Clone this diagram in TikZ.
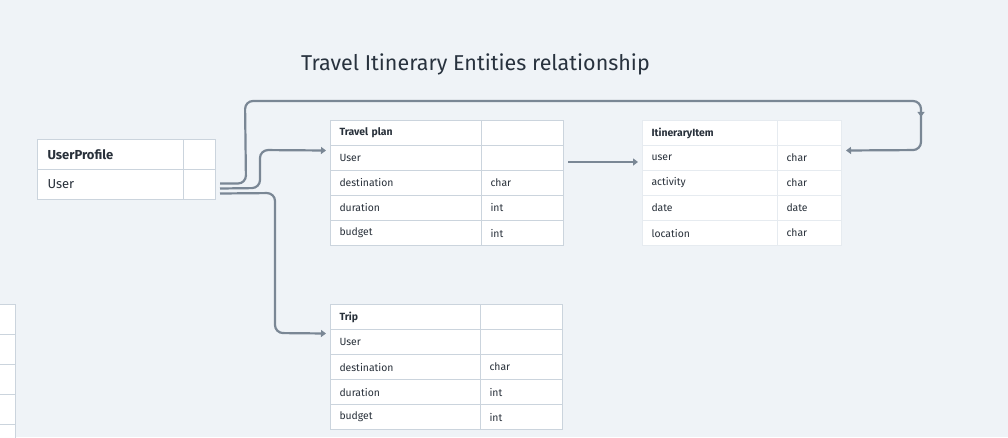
\documentclass[tikz,border=0pt]{standalone}
\usepackage{fontspec}
\setmainfont{Fira Sans}
\usetikzlibrary{arrows.meta,decorations.markings}
\definecolor{bgc}{RGB}{239,243,247}
\definecolor{gridc}{RGB}{203,212,221}
\definecolor{gridl}{RGB}{230,235,240}
\definecolor{txtc}{RGB}{40,48,58}
\definecolor{linec}{RGB}{122,135,149}
\definecolor{titlec}{RGB}{40,50,62}
\begin{document}
\begin{tikzpicture}[x=1pt,y=-1pt,
  cell/.style={draw=gridc, line width=1pt, fill=white, anchor=north west,
    inner xsep=9pt, inner ysep=0pt, align=left, text=txtc,
    font=\fontsize{10.4}{12}\selectfont},
  lcell/.style={cell, draw=gridl},
  ucell/.style={cell, inner xsep=10pt, font=\fontsize{13}{15}\selectfont,
    minimum height=30pt},
  conn/.style={draw=linec, line width=2.2pt, rounded corners=8pt,
    -{Triangle[length=5pt,width=7pt]}},
  midarrow/.style={postaction={decorate}, decoration={markings,
    mark=at position #1 with {\arrow{Triangle[length=5pt,width=7pt]}}}}
]
\fill[bgc] (0,0) rectangle (1008,437);
\useasboundingbox (0,0) rectangle (1008,437);
\clip (0,0) rectangle (1008,437);

\node[anchor=west, text=titlec, font=\fontsize{21.5}{26}\selectfont, inner sep=0pt]
  (title) at (301,64) {Travel Itinerary Entities relationship};

% partial table at left edge
\foreach \i in {0,...,4} {
  \node[cell, minimum width=75pt, minimum height=30pt] (edge-\i) at (-60,{304+30*\i}) {};
}

% UserProfile
\node[ucell, minimum width=146pt, text width=126pt] (up-head-a) at (37,139) {\textbf{UserProfile}};
\node[ucell, minimum width=32pt, text width=12pt] (up-head-b) at (183,139) {};
\node[ucell, minimum width=146pt, text width=126pt] (up-user-a) at (37,169) {User};
\node[ucell, minimum width=32pt, text width=12pt] (up-user-b) at (183,169) {};

% Travel plan
\foreach \t/\v/\n [count=\i from 0] in {{\textbf{Travel plan}}/{}/head, User/{}/user, destination/char/dest, duration/int/dur, budget/int/bud} {
  \node[cell, minimum width=151pt, text width=133pt, minimum height=25pt] (tp-\n-a) at (330,{120+25*\i}) {\t};
  \node[cell, minimum width=82pt, text width=64pt, minimum height=25pt] (tp-\n-b) at (481,{120+25*\i}) {\v};
}

% Trip
\foreach \t/\v/\n [count=\i from 0] in {{\textbf{Trip}}/{}/head, User/{}/user, destination/char/dest, duration/int/dur, budget/int/bud} {
  \node[cell, minimum width=150pt, text width=132pt, minimum height=25pt] (tr-\n-a) at (330,{304+25*\i}) {\t};
  \node[cell, minimum width=82pt, text width=64pt, minimum height=25pt] (tr-\n-b) at (480,{304+25*\i}) {\v};
}

% ItineraryItem
\foreach \t/\v/\n [count=\i from 0] in {{\textbf{ItineraryItem}}/{}/head, user/char/user, activity/char/act, date/date/date, location/char/loc} {
  \node[lcell, minimum width=135pt, text width=117pt, minimum height=25pt] (it-\n-a) at (642,{120+25*\i}) {\t};
  \node[lcell, minimum width=64pt, text width=46pt, minimum height=25pt] (it-\n-b) at (777,{120+25*\i}) {\v};
}

% connectors
\draw[conn, midarrow=790pt] ([xshift=4pt,yshift=1pt]up-user-b.east) -- ++(26,0)
  -- (245,101) -- (921,101) -- (921,150) -- ([xshift=4pt,yshift=7.5pt]it-user-b.east);
\draw[conn] ([xshift=4pt,yshift=-4pt]up-user-b.east) -- (260,188) -- (260,150)
  -- ([xshift=-4pt,yshift=7.5pt]tp-user-a.west);
\draw[conn] ([xshift=4pt,yshift=-9pt]up-user-b.east) -- (275,193) -- (275,333)
  -- ([xshift=-4pt,yshift=8.5pt]tr-user-a.west);
\draw[conn] ([xshift=4pt,yshift=-4pt]tp-user-b.east) -- ([xshift=-4pt,yshift=-4pt]it-user-a.west);
\end{tikzpicture}
\end{document}
